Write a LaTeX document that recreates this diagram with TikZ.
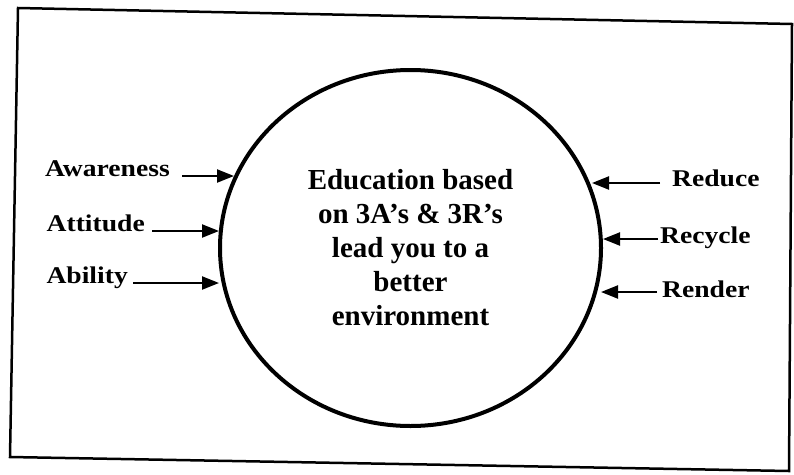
\documentclass[tikz,border=0pt]{standalone}
\usepackage{fontspec}
\setmainfont{Liberation Serif}
\newfontfamily\sidefont[FakeStretch=1.15]{Liberation Serif}
\usetikzlibrary{shapes.geometric,arrows.meta}

\begin{document}
\begin{tikzpicture}[x=1pt,y=-1pt,
  lbl/.style={font=\sidefont\fontsize{24}{28}\selectfont\bfseries, inner sep=0pt},
  arr/.style={line width=2.2pt, -{Triangle[length=17pt,width=13pt]}}]
\useasboundingbox (0,0) rectangle (794,474);
% outer frame
\coordinate (tl) at (18,8);
\coordinate (tr) at (792,24);
\coordinate (br) at (789,471);
\coordinate (bl) at (10,457);
\draw[line width=2.5pt] (tl) -- (tr) -- (br) -- (bl) -- cycle;
\node[draw, ellipse, line width=4pt, minimum width=381pt, minimum height=356pt, align=center,
  font=\fontsize{29}{34}\selectfont\bfseries] (edu) at (410.5,248)
  {Education based\\on 3A's \& 3R's\\lead you to a\\better\\environment};
% the three A's
\coordinate (awareTip) at (234,176);
\coordinate (attTip) at (219,231);
\coordinate (abilTip) at (219,283);
\node[lbl, anchor=base east] (aware) at (170,176) {Awareness};
\node[lbl, anchor=base east] (att) at (145,231) {Attitude};
\node[lbl, anchor=base east] (abil) at (128,283) {Ability};
\draw[arr] (aware.base east) ++(12,0) -- (awareTip);
\draw[arr] (att.base east) ++(7,0) -- (attTip);
\draw[arr] (abil.base east) ++(5,0) -- (abilTip);
% the three R's
\coordinate (reduceTip) at (592,183);
\coordinate (recycTip) at (603,239);
\coordinate (renderTip) at (601,292);
\node[lbl, anchor=base west] (reduce) at (672,186) {Reduce};
\node[lbl, anchor=base west] (recyc) at (660,243) {Recycle};
\node[lbl, anchor=base west] (render) at (662,297) {Render};
\draw[arr] (reduce.base west) ++(-12,-3) -- (reduceTip);
\draw[arr] (recyc.base west) ++(-2,-4) -- (recycTip);
\draw[arr] (render.base west) ++(-5,-5) -- (renderTip);
\end{tikzpicture}
\end{document}
